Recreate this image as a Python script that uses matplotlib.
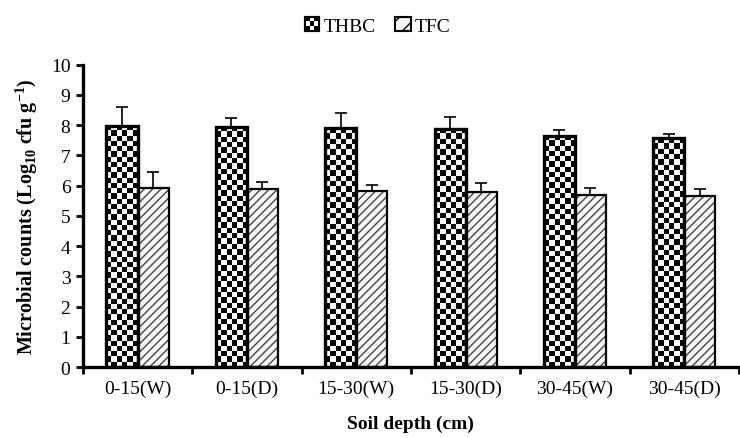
import numpy as np
import matplotlib
matplotlib.use("Agg")
import matplotlib.pyplot as plt
from matplotlib.patches import Rectangle, Patch
from matplotlib.legend_handler import HandlerBase

plt.rcParams['font.family'] = 'Liberation Serif'
plt.rcParams['mathtext.fontset'] = 'custom'
plt.rcParams['mathtext.rm'] = 'Liberation Serif'
plt.rcParams['mathtext.bf'] = 'Liberation Serif:bold'
plt.rcParams['hatch.linewidth'] = 1.0

# Data
depths = ['0-15(W)', '0-15(D)', '15-30(W)', '15-30(D)', '30-45(W)', '30-45(D)']
thbc = [7.98, 7.94, 7.90, 7.87, 7.65, 7.56]
thbc_err = [0.60, 0.29, 0.49, 0.38, 0.20, 0.13]
tfc = [5.92, 5.88, 5.83, 5.77, 5.70, 5.65]
tfc_err = [0.53, 0.25, 0.19, 0.30, 0.21, 0.25]

fig = plt.figure(figsize=(7.4, 4.39), dpi=100)
ax = fig.add_axes([0.112, 0.1617, 0.8865, 0.689])

x = np.arange(len(depths))
w = 0.284
ymax = 10

# THBC bars: outline + checkerboard fill
bars1 = ax.bar(x - w / 2, thbc, w, facecolor='none', edgecolor='black', linewidth=2.4, zorder=3)
cell_px = 5.3
for b in bars1:
    x0, y0 = b.get_x(), b.get_y()
    bw, bh = b.get_width(), b.get_height()
    ncols = 6
    nrows = max(1, int(round(bh * 30.25 / cell_px)))
    chk = (np.indices((nrows, ncols)).sum(axis=0) % 2)
    ax.imshow(chk, cmap='gray_r', extent=(x0, x0 + bw, y0, y0 + bh),
              aspect='auto', interpolation='nearest', zorder=2, origin='lower')

# TFC bars: light fill with diagonal hatch
ax.bar(x + w / 2, tfc, w, facecolor='#f7f7f7', edgecolor='#444444', hatch='////',
       linewidth=0, zorder=2)
ax.bar(x + w / 2, tfc, w, facecolor='none', edgecolor='black', linewidth=1.6, zorder=3)

# one-sided error bars
ax.errorbar(x - w / 2, thbc, yerr=[np.zeros(len(thbc)), thbc_err], fmt='none',
            ecolor='black', elinewidth=1.2, capsize=4.5, capthick=1.2, zorder=4)
ax.errorbar(x + w / 2, tfc, yerr=[np.zeros(len(tfc)), tfc_err], fmt='none',
            ecolor='black', elinewidth=1.2, capsize=4.5, capthick=1.2, zorder=4)

ax.set_xlim(-0.5, len(depths) - 0.5)
ax.set_ylim(0, ymax)
ax.set_yticks(range(0, ymax + 1))
ax.set_xticks(np.arange(-0.5, len(depths), 1.0))
ax.set_xticklabels([])
ax.set_xticks(x, minor=True)
ax.set_xticklabels(depths, minor=True, fontsize=14)
ax.tick_params(axis='x', which='minor', length=0, pad=9)
ax.tick_params(axis='x', which='major', length=5, width=2, direction='out')
ax.tick_params(axis='y', length=5, width=2, labelsize=14, pad=4)

for s in ['top', 'right']:
    ax.spines[s].set_visible(False)
for s in ['left', 'bottom']:
    ax.spines[s].set_linewidth(2.4)

ax.set_xlabel('Soil depth (cm)', fontsize=14, fontweight='bold', labelpad=13)
ax.set_ylabel(r'Microbial counts (Log$_{\mathbf{10}}$ cfu g$^{\mathbf{-1}}$)',
              fontsize=14.5, fontweight='bold', labelpad=8)


class CheckerHandler(HandlerBase):
    def create_artists(self, legend, orig_handle, xdescent, ydescent,
                       width, height, fontsize, trans):
        s = height
        x0 = -xdescent + (width - s) / 2
        y0 = -ydescent
        arts = [Rectangle((x0, y0), s, s, facecolor='black', edgecolor='black',
                          linewidth=1.5, transform=trans)]
        c = s / 3
        for i in range(3):
            for j in range(3):
                if (i + j) % 2 == 1:
                    arts.append(Rectangle((x0 + i * c, y0 + j * c), c, c,
                                          facecolor='white', edgecolor='none',
                                          transform=trans))
        arts.append(Rectangle((x0, y0), s, s, facecolor='none', edgecolor='black',
                              linewidth=1.5, transform=trans))
        return arts


h1 = Patch(facecolor='black', edgecolor='black')
h2 = Patch(facecolor='#f5f5f5', edgecolor='black', hatch='//', linewidth=1.5)
fig.legend([h1, h2], ['THBC', 'TFC'], handler_map={h1: CheckerHandler()},
           loc='upper center', bbox_to_anchor=(0.51, 1.0), ncol=2, frameon=False,
           fontsize=14, handlelength=0.8, handleheight=0.8, handletextpad=0.2,
           columnspacing=1.0)

fig.savefig('out.png', dpi=100)
